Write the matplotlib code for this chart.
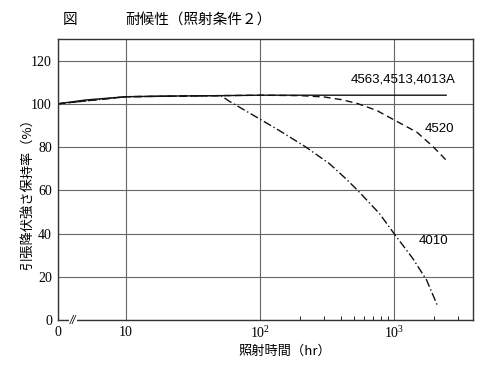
import numpy as np
import matplotlib.pyplot as plt
from matplotlib.ticker import FixedLocator, NullFormatter

# data (hours, retention %)
hours_a = [0, 5, 10, 20, 50, 100, 300, 1000, 2450]
vals_a = [100, 101.8, 103.3, 103.6, 103.8, 104, 104, 104, 104]

hours_b = [0, 10, 50, 100, 200, 300, 400, 525, 740, 1000, 1480, 1950, 2430]
vals_b = [100, 103.3, 103.8, 104, 103.8, 103.2, 102, 100.3, 97, 92.6, 86.9, 80.3, 74.2]

hours_c = [0, 10, 51, 59, 104, 139, 220, 330, 435, 535, 780, 1000, 1380, 1750, 2130]
vals_c = [100, 103.3, 103.8, 101.2, 92.3, 87.7, 80, 72.3, 65.5, 60, 49.2, 40, 28.5, 18.5, 6.1]

labels = ['4563,4513,4013A', '4520', '4010']
y_ticks = [0, 20, 40, 60, 80, 100, 120]

x_zero = 3.08   # where "0" sits on the broken log axis

cjk = ['Noto Sans CJK JP', 'DejaVu Sans']
plt.rcParams['font.family'] = cjk
plt.rcParams['mathtext.fontset'] = 'stix'

fig = plt.figure(figsize=(5, 3.68), dpi=100)
ax = fig.add_axes([0.115, 0.1304, 0.8305, 0.7636])

def xs(h):
    return [x_zero if v == 0 else v for v in h]

ax.plot(xs(hours_a), vals_a, color='#111', lw=1.0, ls='-')
ax.plot(xs(hours_b), vals_b, color='#111', lw=1.0, ls=(0, (5, 3)))
ax.plot(xs(hours_c), vals_c, color='#111', lw=1.0, ls=(0, (6, 2, 1, 2)))

ax.set_xscale('log')
ax.set_xlim(x_zero, 3870)
ax.set_ylim(0, 130)

ax.xaxis.set_major_locator(FixedLocator([x_zero, 10, 100, 1000]))
ax.set_xticklabels(['0', '10', '$\\mathregular{10^2}$', '$\\mathregular{10^3}$'])
ax.xaxis.set_minor_locator(FixedLocator([200, 300, 400, 500, 600, 700, 800, 900, 2000, 3000]))
ax.xaxis.set_minor_formatter(NullFormatter())
ax.set_yticks(y_ticks)

ax.tick_params(axis='both', which='major', length=0, pad=4, labelsize=10)
ax.tick_params(axis='x', which='minor', direction='in', length=3, width=0.7, color='#222')
for lab in ax.get_xticklabels() + ax.get_yticklabels():
    lab.set_family('Liberation Serif')

ax.grid(True, which='major', color='#666', lw=0.8)
ax.set_axisbelow(True)
for s in ax.spines.values():
    s.set_color('#333')
    s.set_linewidth(1.0)

# axis break mark near the origin
ax.text(0.037, 0.0, '//', transform=ax.transAxes, ha='center', va='center',
        fontsize=7, style='italic', family='DejaVu Sans',
        bbox=dict(facecolor='white', edgecolor='none', pad=0.5))

# curve labels
ax.text(0.705, 0.855, labels[0], transform=ax.transAxes, fontsize=9.5,
        family='Liberation Sans', va='center')
ax.text(0.885, 0.68, labels[1], transform=ax.transAxes, fontsize=9.5,
        family='Liberation Sans', va='center')
ax.text(0.87, 0.28, labels[2], transform=ax.transAxes, fontsize=9.5,
        family='Liberation Sans', va='center')

fig.text(0.125, 0.945, '図', fontsize=10.5, va='center')
fig.text(0.25, 0.945, '耐候性（照射条件２）', fontsize=10.5, va='center')
fig.text(0.054, 0.48, '引張降伏強さ保持率（%）', rotation=90, fontsize=9.5,
         ha='center', va='center')
fig.text(0.57, 0.045, '照射時間（hr）', fontsize=9.5, ha='center', va='center')

fig.savefig('out.png', dpi=100)
